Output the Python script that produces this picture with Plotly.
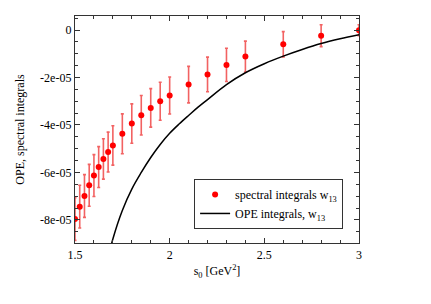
import plotly.graph_objects as go

s0_spec = [1.5, 1.525, 1.55, 1.575, 1.6, 1.625, 1.65, 1.675, 1.7, 1.75, 1.8, 1.85, 1.9, 1.95, 2.0,
           2.1, 2.2, 2.3, 2.4, 2.6, 2.8, 3.0]
spec_vals = [-7.96, -7.44, -6.99, -6.54, -6.13, -5.77, -5.43, -5.14, -4.86, -4.37, -3.94, -3.59,
             -3.28, -3.00, -2.76, -2.30, -1.87, -1.47, -1.12, -0.60, -0.24, -0.01]
spec_errs = [0.90, 0.90, 0.90, 0.88, 0.88, 0.86, 0.85, 0.84, 0.83, 0.84, 0.83, 0.83,
             0.81, 0.80, 0.78, 0.77, 0.73, 0.70, 0.65, 0.53, 0.46, 0.23]

s0_ope = [1.65, 1.7, 1.75, 1.8, 1.85, 1.9, 1.95, 2.0, 2.05, 2.1, 2.15, 2.2, 2.3, 2.4, 2.5,
          2.6, 2.7, 2.8, 2.9, 3.0]
ope_vals = [-10.4, -8.8, -7.6, -6.7, -6.0, -5.37, -4.82, -4.35, -3.96, -3.6, -3.25, -2.93,
            -2.3, -1.8, -1.42, -1.1, -0.82, -0.57, -0.37, -0.2]

scale = 1e-5
ytickvals = [0, -2e-5, -4e-5, -6e-5, -8e-5]
yticktext = ["0", "-2e-05", "-4e-05", "-6e-05", "-8e-05"]
xtickvals = [1.5, 2, 2.5, 3]
xticktext = ["1.5", "2", "2.5", "3"]

font = "Liberation Serif"
fsize = 12

fig = go.Figure()
fig.add_trace(go.Scatter(
    x=s0_spec, y=[v * scale for v in spec_vals], mode="markers",
    name="spectral integrals w<sub>13</sub>",
    marker=dict(color="#ff0000", size=6),
    error_y=dict(type="data", array=[e * scale for e in spec_errs], color="rgba(240,70,70,0.85)",
                 thickness=1.6, width=1.5),
))
fig.add_trace(go.Scatter(
    x=s0_ope, y=[v * scale for v in ope_vals], mode="lines",
    name="OPE integrals, w<sub>13</sub>",
    line=dict(color="black", width=1.5, shape="spline"),
))

axis_common = dict(
    showline=True, linecolor="#333", linewidth=1.3, mirror="allticks",
    ticks="inside", ticklen=5, tickcolor="#333", showgrid=False, zeroline=False,
    tickfont=dict(family=font, size=fsize, color="black"),
)
fig.update_xaxes(range=[1.5, 3.0], tickvals=xtickvals, ticktext=xticktext,
                 minor=dict(ticks="inside", dtick=0.1, ticklen=3, tickcolor="#333"),
                 title=dict(text="s<sub>0</sub> [GeV<sup>2</sup>]", font=dict(family=font, size=fsize, color="black"), standoff=6),
                 **axis_common)
fig.update_yaxes(range=[-8.97e-5, 0.59e-5], tickvals=ytickvals, ticktext=yticktext,
                 minor=dict(ticks="inside", dtick=0.5e-5, tick0=0, ticklen=3, tickcolor="#333"),
                 title=dict(text="OPE, spectral integrals", font=dict(family=font, size=fsize, color="black"), standoff=12),
                 **axis_common)

fig.update_layout(
    width=431, height=304,
    margin=dict(l=67, r=80, t=8, b=69),
    font=dict(family=font, size=fsize, color="black"),
    plot_bgcolor="white", paper_bgcolor="white",
    showlegend=True,
    legend=dict(x=0.944, y=0.172, xanchor="right", yanchor="middle",
                bordercolor="#333", borderwidth=1, bgcolor="white",
                font=dict(family=font, size=fsize, color="black"),
                itemwidth=30, tracegroupgap=0),
)

fig.write_html("out.html")
